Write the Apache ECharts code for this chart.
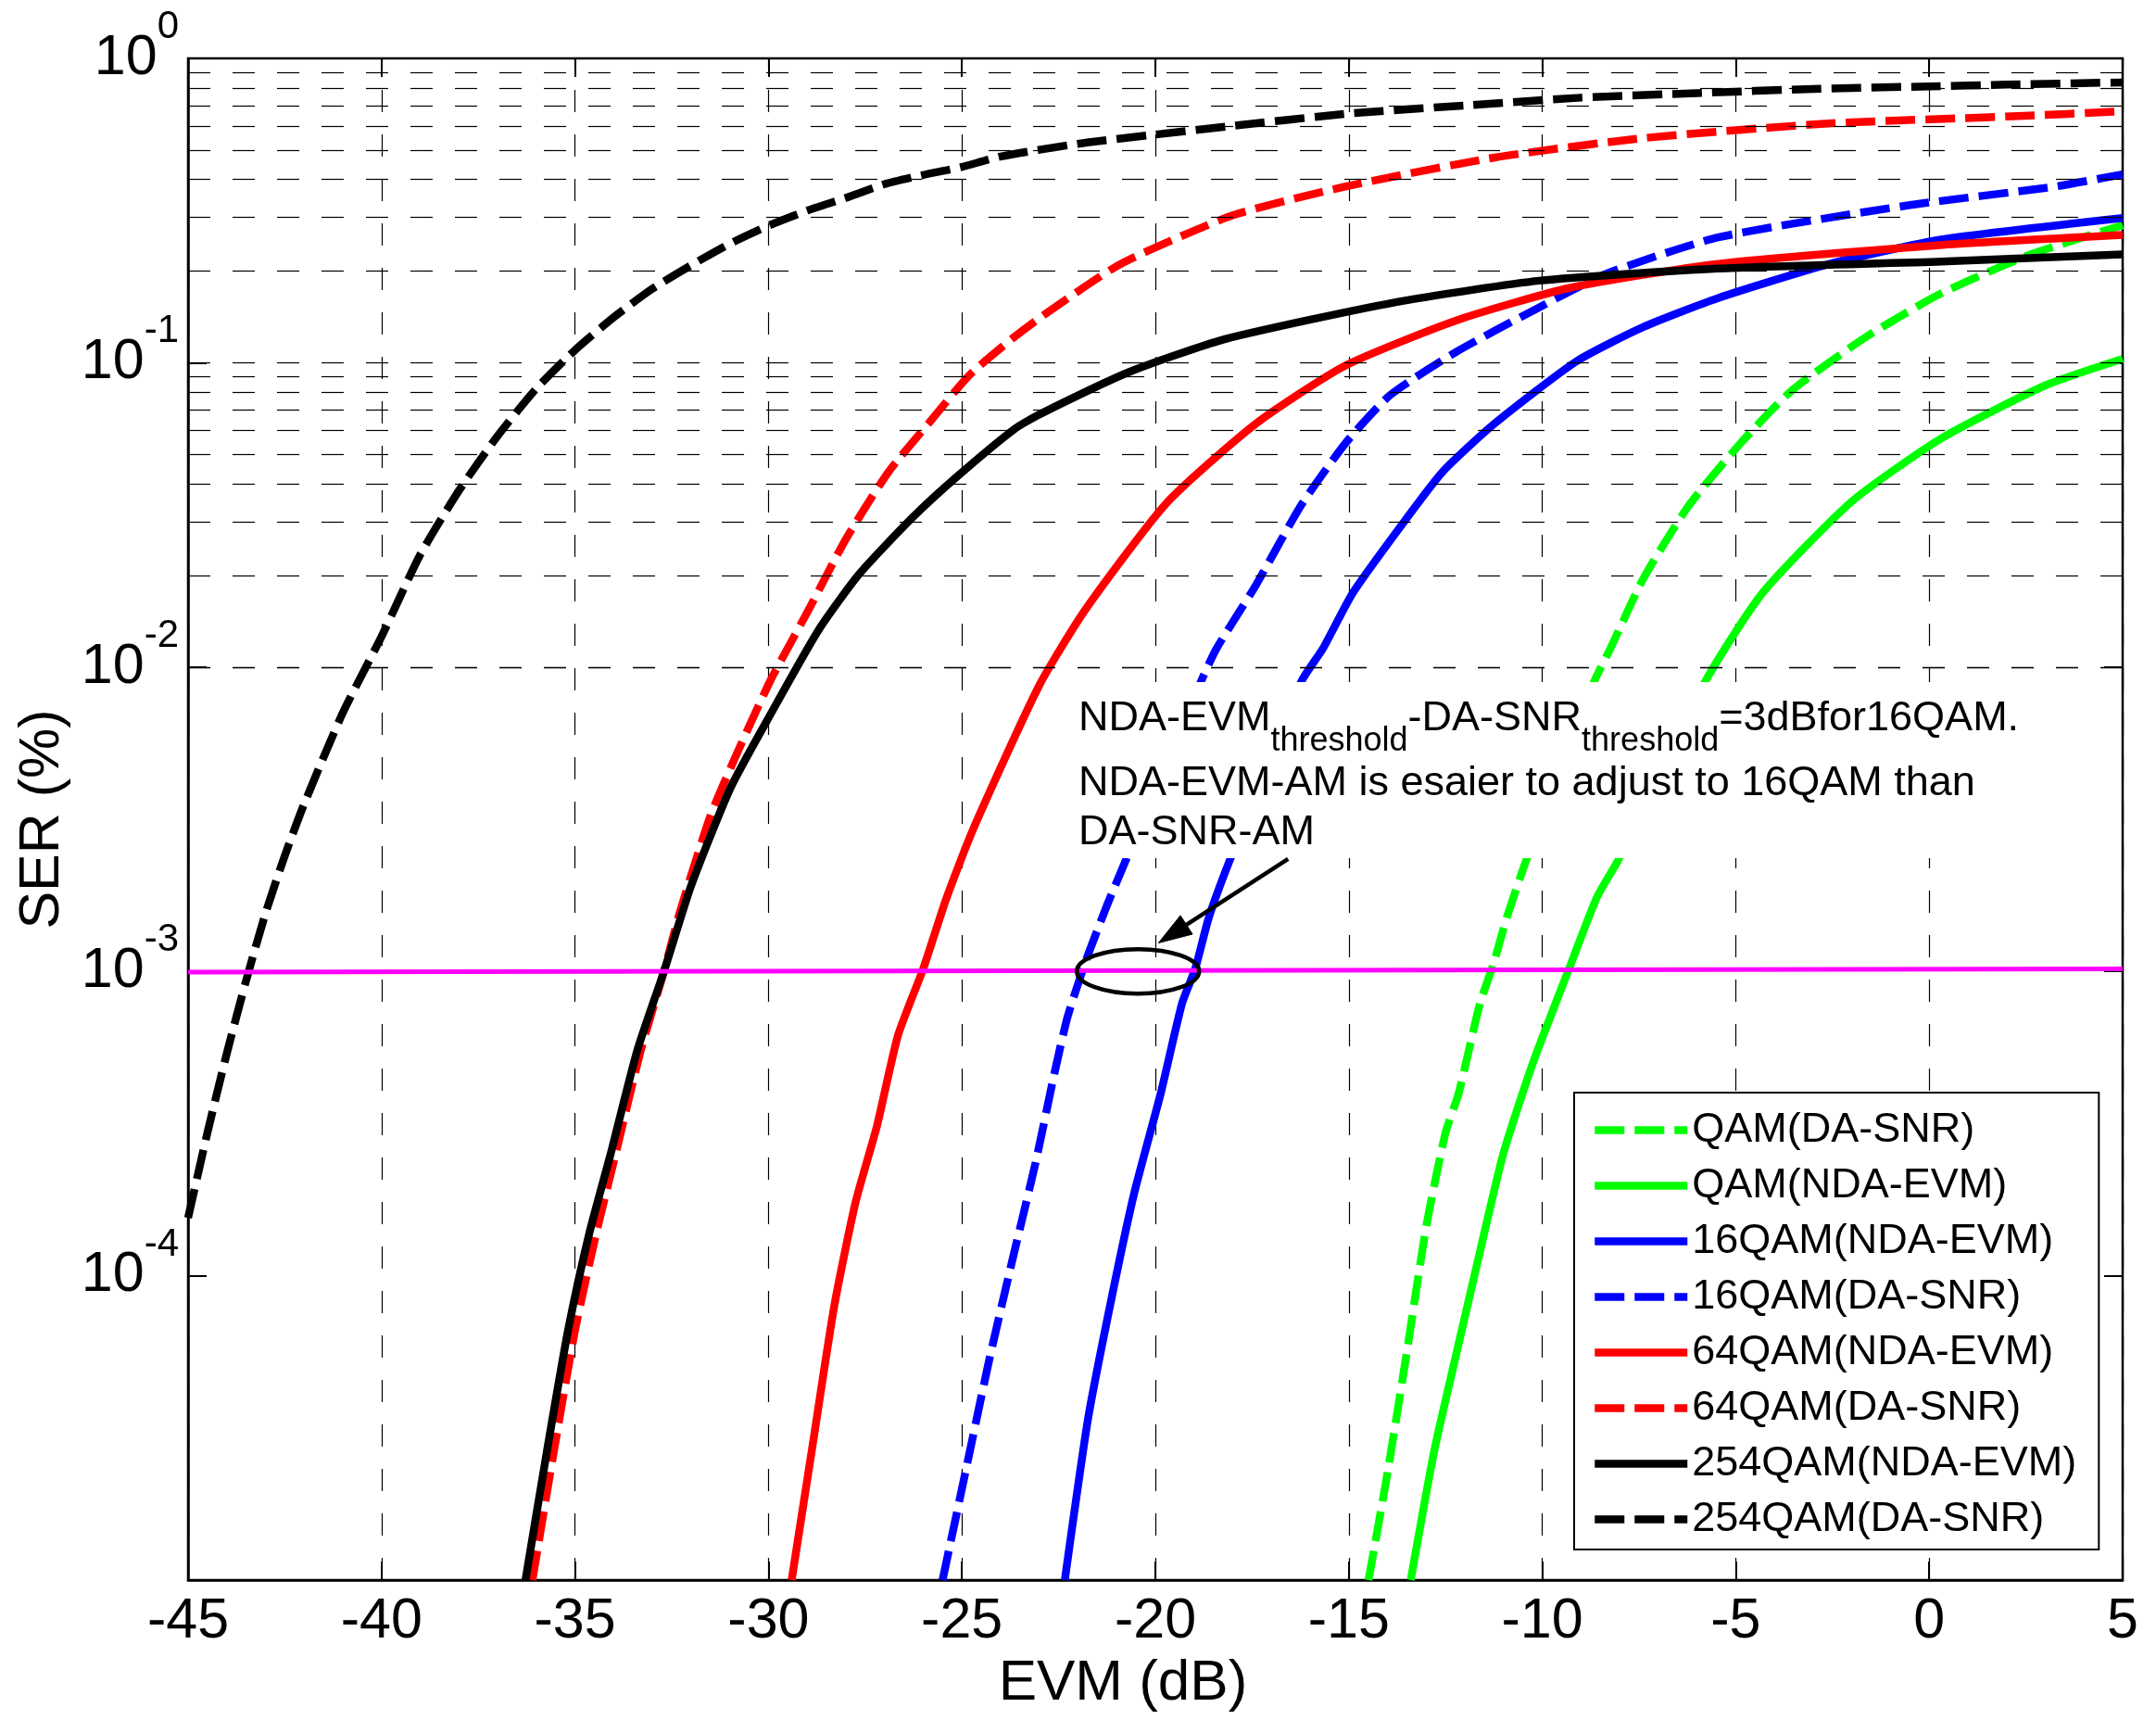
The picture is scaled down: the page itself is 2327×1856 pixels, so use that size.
<!DOCTYPE html>
<html>
<head>
<meta charset="utf-8">
<script src="https://cdn.jsdelivr.net/npm/echarts@6/dist/echarts.min.js"></script>
<style>
  html, body { margin: 0; padding: 0; background: #fff; }
  #chart { width: 2327px; height: 1856px; }
</style>
</head>
<body>
<div id="chart"></div>
<script>
const FONT = '"Liberation Sans", Arial, Helvetica, sans-serif';

// axis ticks
const evmTicks = [-45, -40, -35, -30, -25, -20, -15, -10, -5, 0, 5];
const serDecades = [-5, -4, -3, -2, -1, 0];
const labelledDecades = [-4, -3, -2, -1, 0];
const gridMantissas = [1, 2, 3, 4, 5, 6, 7, 8, 9];

// QAM (DA-SNR)
const qamDaEvm = [-14.49, -13.99, -13.5, -13.0, -12.5, -12.16, -11.61, -11.27, -10.92, -10.44, -8.66, -8.24, -7.39, -6.23, -4.88, -3.54, -1.61, 0.31, 2.62, 5.0];
const qamDaSer = [1.00e-5, 2.29e-5, 5.62e-5, 1.45e-4, 2.95e-4, 3.98e-4, 7.85e-4, 1.05e-3, 1.50e-3, 2.27e-3, 8.95e-3, 1.15e-2, 1.95e-2, 3.37e-2, 5.43e-2, 8.13e-2, 0.122, 0.169, 0.227, 0.283];
// QAM (NDA-EVM)
const qamNdaEvm = [-13.4, -12.8, -12.21, -11.61, -11.01, -10.24, -9.27, -8.58, -8.03, -5.79, -4.31, -2.0, 0.31, 3.01, 5.0];
const qamNdaSer = [1.00e-5, 2.63e-5, 5.62e-5, 1.20e-4, 2.51e-4, 5.01e-4, 1.05e-3, 1.76e-3, 2.33e-3, 8.95e-3, 1.75e-2, 3.50e-2, 5.64e-2, 8.43e-2, 0.103];
// 16QAM (NDA-EVM)
const q16NdaEvm = [-22.34, -21.74, -21.15, -20.55, -19.86, -19.31, -18.97, -18.62, -18.07, -16.23, -15.67, -14.9, -13.74, -12.59, -11.24, -9.12, -7.39, -5.46, -2.58, 0.31, 5.0];
const q16NdaSer = [1.00e-5, 3.39e-5, 8.22e-5, 1.86e-4, 3.98e-4, 7.85e-4, 1.02e-3, 1.50e-3, 2.33e-3, 8.95e-3, 1.15e-2, 1.75e-2, 2.81e-2, 4.36e-2, 6.30e-2, 0.101, 0.131, 0.163, 0.211, 0.254, 0.299];
// 16QAM (DA-SNR)
const q16DaEvm = [-25.5, -24.9, -24.3, -23.7, -23.1, -22.6, -22.27, -21.8, -21.24, -20.75, -18.83, -18.42, -17.4, -16.24, -15.09, -13.93, -12.2, -10.08, -8.35, -5.46, -0.61, 3.24, 5.0];
const q16DaSer = [1.00e-5, 2.29e-5, 5.25e-5, 1.12e-4, 2.34e-4, 4.68e-4, 7.08e-4, 1.08e-3, 1.66e-3, 2.34e-3, 8.91e-3, 1.15e-2, 1.86e-2, 3.39e-2, 5.43e-2, 7.83e-2, 0.109, 0.152, 0.196, 0.258, 0.328, 0.379, 0.416];
// 64QAM (NDA-EVM)
const q64NdaEvm = [-29.4, -28.85, -28.3, -27.75, -27.2, -26.65, -26.0, -25.4, -24.7, -23.0, -21.8, -19.7, -17.4, -15.1, -12.2, -9.3, -5.5, 0.35, 5.0];
const q64NdaSer = [1.00e-5, 2.82e-5, 7.94e-5, 1.74e-4, 3.09e-4, 6.17e-4, 1.02e-3, 1.74e-3, 2.95e-3, 8.71e-3, 1.55e-2, 3.47e-2, 6.31e-2, 9.77e-2, 0.138, 0.176, 0.211, 0.244, 0.263];
// 64QAM (DA-SNR)
const q64DaEvm = [-36.1, -35.55, -35.0, -34.45, -33.95, -33.3, -32.7, -32.3, -31.5, -30.8, -29.95, -29.0, -28.0, -26.9, -25.8, -24.8, -23.7, -22.8, -20.9, -18.0, -15.1, -11.2, -7.4, -2.6, 2.3, 5.0];
const q64DaSer = [1.00e-5, 2.63e-5, 6.61e-5, 1.38e-4, 2.51e-4, 5.50e-4, 1.00e-3, 1.55e-3, 3.24e-3, 5.25e-3, 9.02e-3, 1.51e-2, 2.63e-2, 4.37e-2, 6.46e-2, 9.12e-2, 0.120, 0.146, 0.211, 0.305, 0.379, 0.473, 0.547, 0.611, 0.646, 0.670];
// 254QAM (NDA-EVM)
const q254NdaEvm = [-36.28, -35.73, -35.18, -34.63, -34.08, -33.39, -32.7, -32.0, -30.98, -29.94, -28.71, -27.67, -26.31, -25.14, -23.63, -22.98, -20.67, -18.36, -16.05, -13.55, -10.08, -5.46, 0.31, 5.0];
const q254NdaSer = [1.00e-5, 2.63e-5, 6.61e-5, 1.38e-4, 2.51e-4, 5.50e-4, 1.00e-3, 1.91e-3, 4.01e-3, 7.02e-3, 1.32e-2, 2.01e-2, 3.07e-2, 4.21e-2, 6.07e-2, 6.78e-2, 9.33e-2, 0.118, 0.138, 0.160, 0.186, 0.204, 0.215, 0.227];
// 254QAM (DA-SNR)
const q254DaEvm = [-45, -44.5, -44, -43.5, -43, -42.5, -42, -41, -40, -39, -38, -37, -36, -35, -34, -33, -32, -31, -30, -29, -28, -27, -26, -25, -24, -22, -20, -18, -15, -12, -9, -6, -3, 0, 2, 5];
const q254DaSer = [1.55e-4, 2.95e-4, 5.37e-4, 9.33e-4, 1.55e-3, 2.40e-3, 3.55e-3, 7.08e-3, 1.26e-2, 2.34e-2, 3.80e-2, 5.75e-2, 8.22e-2, 0.110, 0.141, 0.175, 0.209, 0.246, 0.282, 0.316, 0.348, 0.386, 0.414, 0.440, 0.476, 0.524, 0.562, 0.600, 0.659, 0.700, 0.743, 0.769, 0.794, 0.809, 0.820, 0.834];
// 1e-3 threshold line
const thresholdEvm = [-45, 5];
const thresholdSer = [9.95e-4, 1.02e-3];

// annotation anchors (data coordinates)
const ringCenter = [-20.45, 1.0e-3];
const arrowTail = [-16.57, 2.34e-3];
const arrowTip = [-19.92, 1.24e-3];

const zip = (xs, ys) => xs.map((x, i) => [x, ys[i]]);

const curves = [
  { name: "QAM(DA-SNR)", color: "#00ff00", dash: [32, 11], x: qamDaEvm, y: qamDaSer },
  { name: "QAM(NDA-EVM)", color: "#00ff00", dash: "solid", x: qamNdaEvm, y: qamNdaSer },
  { name: "16QAM(NDA-EVM)", color: "#0000ff", dash: "solid", x: q16NdaEvm, y: q16NdaSer },
  { name: "16QAM(DA-SNR)", color: "#0000ff", dash: [32, 11], x: q16DaEvm, y: q16DaSer },
  { name: "64QAM(NDA-EVM)", color: "#ff0000", dash: "solid", x: q64NdaEvm, y: q64NdaSer },
  { name: "64QAM(DA-SNR)", color: "#ff0000", dash: [32, 11], x: q64DaEvm, y: q64DaSer },
  { name: "254QAM(NDA-EVM)", color: "#000000", dash: "solid", x: q254NdaEvm, y: q254NdaSer },
  { name: "254QAM(DA-SNR)", color: "#000000", dash: [32, 11], x: q254DaEvm, y: q254DaSer },
];

const minorGrid = [];
serDecades.slice(0, -1).forEach((e) => {
  gridMantissas.forEach((m) => {
    if (e === serDecades[0] && m === 1) return;
    minorGrid.push({ yAxis: m * Math.pow(10, e) });
  });
});

const yMin = Math.pow(10, serDecades[0]);
const yMax = Math.pow(10, serDecades[serDecades.length - 1]);
const xMin = evmTicks[0];
const xMax = evmTicks[evmTicks.length - 1];

const chart = echarts.init(document.getElementById("chart"));

const axisTickIn = { show: true, inside: true, length: 20, lineStyle: { color: "#000", width: 2 } };

const option = {
  animation: false,
  backgroundColor: "#fff",
  textStyle: { fontFamily: FONT },
  grid: {
    left: 203, right: 36, top: 63, bottom: 151,
    show: true, borderColor: "#000", borderWidth: 2.5, backgroundColor: "transparent",
  },
  xAxis: [
    {
      type: "value", min: xMin, max: xMax, interval: 5,
      name: "EVM (dB)", nameLocation: "middle", nameGap: 80,
      nameTextStyle: { fontSize: 62, color: "#000", fontFamily: FONT, padding: [0, 70, 0, 0] },
      axisLine: { show: true, onZero: false, lineStyle: { color: "#000", width: 2.5 } },
      axisTick: axisTickIn,
      axisLabel: { fontSize: 61, color: "#000", fontFamily: FONT, margin: 15 },
      splitLine: { show: true, lineStyle: { color: "#000", width: 1.2, type: [24, 24], dashOffset: 14 } },
    },
    {
      type: "value", min: xMin, max: xMax, interval: 5, position: "top",
      axisLine: { show: false, onZero: false }, axisTick: axisTickIn, axisLabel: { show: false }, splitLine: { show: false },
    },
  ],
  yAxis: [
    {
      type: "log", logBase: 10, min: yMin, max: yMax, position: "left",
      name: "SER (%)", nameLocation: "middle", nameGap: 120,
      nameTextStyle: { fontSize: 61, color: "#000", fontFamily: FONT },
      axisLine: { show: true, onZero: false, lineStyle: { color: "#000", width: 2.5 } },
      axisTick: axisTickIn,
      axisLabel: {
        margin: 10,
        formatter: (v) => {
          const e = Math.round(Math.log10(v));
          return labelledDecades.includes(e) ? "{b|10}{s|" + e + "}" : "";
        },
        rich: {
          b: { fontSize: 61, color: "#000", fontFamily: FONT },
          s: { fontSize: 42, color: "#000", fontFamily: FONT, padding: [0, 0, 67, 0] },
        },
      },
      splitLine: { show: false },
    },
    {
      type: "log", logBase: 10, min: yMin, max: yMax, position: "right",
      axisLine: { show: false, onZero: false }, axisTick: axisTickIn, axisLabel: { show: false }, splitLine: { show: false },
    },
  ],
  legend: {
    orient: "vertical",
    left: 1699, top: 1179,
    data: curves.map((c) => c.name),
    itemWidth: 100, itemHeight: 20, itemGap: 15,
    padding: [18, 24, 10, 18],
    backgroundColor: "#fff", borderColor: "#000", borderWidth: 2,
    textStyle: { fontSize: 45, color: "#000", fontFamily: FONT },
    lineStyle: { width: 8.5 },
    itemStyle: { opacity: 0 },
    selectedMode: false,
    z: 20,
  },
  series: [
    {
      name: "grid", type: "line", data: [], silent: true, z: 1,
      markLine: {
        silent: true, symbol: ["none", "none"], animation: false,
        label: { show: false },
        lineStyle: { color: "#000", width: 1.2, type: [24, 24] },
        emphasis: { disabled: true },
        data: minorGrid,
      },
    },
    ...curves.map((c) => ({
      name: c.name, type: "line", showSymbol: false, symbol: "none",
      smooth: 0.2,
      data: zip(c.x, c.y),
      itemStyle: { color: c.color },
      lineStyle: { color: c.color, width: 8.5, type: c.dash, join: "round" },
      z: 3,
    })),
    {
      name: "threshold", type: "line", symbol: "none", showSymbol: false,
      data: zip(thresholdEvm, thresholdSer),
      lineStyle: { color: "#ff00ff", width: 5 },
      itemStyle: { color: "#ff00ff" },
      z: 4,
    },
  ],
};

chart.setOption(option);

// annotation: text box, ring and arrow
const px = (p) => chart.convertToPixel({ gridIndex: 0 }, p);
const [cx, cy] = px(ringCenter);
const [tx, ty] = px(arrowTail);
const [hx, hy] = px(arrowTip);
const dx = hx - tx, dy = hy - ty, len = Math.hypot(dx, dy);
const ux = dx / len, uy = dy / len;
const headLen = 36, headHalf = 12;
const bx = hx - ux * headLen, by = hy - uy * headLen;

const txtStyle = (extra) => Object.assign({
  fill: "#000", fontSize: 45, fontFamily: FONT,
  align: "left", textAlign: "left", verticalAlign: "middle", textVerticalAlign: "middle",
}, extra);

chart.setOption({
  graphic: [
    { type: "rect", z: 100, shape: { x: 1148, y: 736, width: 1117, height: 190 }, style: { fill: "#fff" } },
    {
      type: "text", z: 101, x: 1164, y: 776,
      style: txtStyle({
        text: "{n|NDA-EVM}{s|threshold}{n|-DA-SNR}{s|threshold}{n|=3dBfor16QAM.}",
        rich: {
          n: { fontSize: 45, fontFamily: FONT, fill: "#000" },
          s: { fontSize: 36, fontFamily: FONT, fill: "#000", padding: [48, 0, 0, 0] },
        },
      }),
    },
    { type: "text", z: 101, x: 1164, y: 846, style: txtStyle({ text: "NDA-EVM-AM is esaier to adjust to 16QAM than" }) },
    { type: "text", z: 101, x: 1164, y: 899, style: txtStyle({ text: "DA-SNR-AM" }) },
    { type: "ellipse", z: 110, shape: { cx: cx, cy: cy, rx: 66, ry: 24 }, style: { fill: "none", stroke: "#000", lineWidth: 4.5 } },
    { type: "line", z: 110, shape: { x1: tx, y1: ty, x2: bx, y2: by }, style: { stroke: "#000", lineWidth: 4.5 } },
    {
      type: "polygon", z: 110,
      shape: { points: [[hx, hy], [bx - uy * headHalf, by + ux * headHalf], [bx + uy * headHalf, by - ux * headHalf]] },
      style: { fill: "#000", stroke: "#000", lineWidth: 1 },
    },
  ],
});
</script>
</body>
</html>
